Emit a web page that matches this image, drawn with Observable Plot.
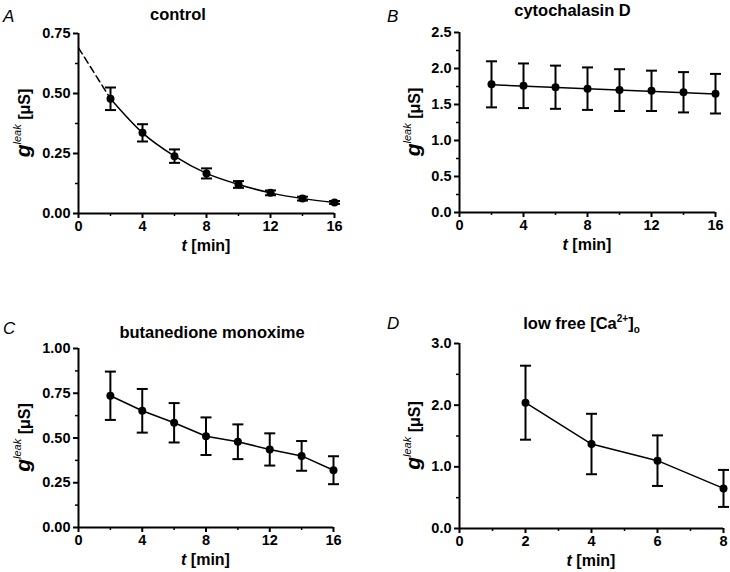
<!DOCTYPE html>
<html><head><meta charset="utf-8">
<script src="https://cdn.jsdelivr.net/npm/d3@7"></script>
<script src="https://cdn.jsdelivr.net/npm/@observablehq/plot@0.6"></script>
<style>
body{margin:0;background:#fff;}
#fig{position:relative;width:730px;height:572px;background:#fff;overflow:hidden;}
#fig svg{position:absolute;}
</style></head><body><div id="fig"></div>
<script>
// ---- data ----
const tA = [2, 4, 6, 8, 10, 12, 14, 16];
const gA = [0.478, 0.336, 0.239, 0.167, 0.121, 0.086, 0.062, 0.046];
const eA = [0.047, 0.036, 0.028, 0.021, 0.014, 0.010, 0.008, 0.006];
const tDashA = [0, 2];
const gDashA = [0.69, 0.478];

const tB = [2, 4, 6, 8, 10, 12, 14, 16];
const gB = [1.78, 1.76, 1.74, 1.72, 1.70, 1.69, 1.67, 1.65];
const eB = [0.32, 0.31, 0.30, 0.295, 0.29, 0.28, 0.28, 0.275];
const tFitB = [2, 16];
const gFitB = [1.775, 1.645];

const tC = [2, 4, 6, 8, 10, 12, 14, 16];
const gC = [0.736, 0.652, 0.585, 0.510, 0.479, 0.436, 0.400, 0.320];
const eC = [0.135, 0.122, 0.110, 0.105, 0.097, 0.090, 0.083, 0.078];

const tD = [2, 4, 6, 8];
const gD = [2.04, 1.37, 1.10, 0.65];
const eD = [0.60, 0.49, 0.41, 0.30];

// tick values
const xMajor16 = [0, 4, 8, 12, 16];
const xMinor16 = [2, 6, 10, 14];
const xMajor8 = [0, 2, 4, 6, 8];
const xMinor8 = [1, 3, 5, 7];
const yMajorA = [0, 0.25, 0.5, 0.75];
const yMinorA = [0.125, 0.375, 0.625];
const yMajorB = [0, 0.5, 1.0, 1.5, 2.0, 2.5];
const yMinorB = [0.25, 0.75, 1.25, 1.75, 2.25];
const yMajorC = [0, 0.25, 0.5, 0.75, 1.0];
const yMinorC = [0.125, 0.375, 0.625, 0.875];
const yMajorD = [0, 1.0, 2.0, 3.0];
const yMinorD = [0.5, 1.5, 2.5];

const letters = ["A", "B", "C", "D"];
const titles = ["control", "cytochalasin D", "butanedione monoxime", null];

const FONT = "'Liberation Sans', Arial, Helvetica, sans-serif";
const cap = {draw(ctx) { ctx.moveTo(-5.5, 0); ctx.lineTo(5.5, 0); }};

function zip(t, g, e) { return t.map((v, i) => ({t: v, g: g[i], e: e ? e[i] : 0})); }

function panel(c) {
  const rows = zip(c.t, c.g, c.e);
  const svg = Plot.plot({
    width: 365, height: 286,
    marginLeft: c.m[0], marginRight: c.m[1], marginTop: c.m[2], marginBottom: c.m[3],
    style: {fontFamily: FONT, fontSize: "14.5px", fontWeight: "bold", color: "black", background: "white", overflow: "visible"},
    x: {domain: c.xDomain},
    y: {domain: c.yDomain},
    marks: [
      Plot.axisX({ticks: c.xMajor, tickSize: 5, tickPadding: 2, strokeWidth: 2, tickFormat: d => String(d), label: null}),
      Plot.axisX({ticks: c.xMinor, tickSize: 3, strokeWidth: 1.5, fill: "none", label: null}),
      Plot.axisY({ticks: c.yMajor, tickSize: 5, tickPadding: 3, strokeWidth: 2, tickFormat: c.yFmt, label: null}),
      Plot.axisY({ticks: c.yMinor, tickSize: 3, strokeWidth: 1.5, fill: "none", label: null}),
      Plot.ruleX([c.xDomain[0]], {strokeWidth: 2}),
      Plot.ruleY([c.yDomain[0]], {strokeWidth: 2}),
      ...c.lines,
      Plot.ruleX(rows, {x: "t", y1: d => d.g - d.e, y2: d => d.g + d.e, strokeWidth: 2}),
      Plot.dot(rows, {x: "t", y: d => d.g + d.e, symbol: cap, stroke: "black", strokeWidth: 2}),
      Plot.dot(rows, {x: "t", y: d => d.g - d.e, symbol: cap, stroke: "black", strokeWidth: 2}),
      Plot.dot(rows, {x: "t", y: "g", r: 4, fill: "black"})
    ]
  });
  svg.style.left = c.pos[0] + "px";
  svg.style.top = c.pos[1] + "px";
  const s = d3.select(svg);
  const fw = 365 - c.m[0] - c.m[1], fh = 286 - c.m[2] - c.m[3];
  // panel letter
  s.append("text").attr("x", c.letterPos[0]).attr("y", c.letterPos[1])
    .attr("text-anchor", "start")
    .attr("font-style", "italic").attr("font-weight", "normal").attr("font-size", 17)
    .attr("fill", "black").text(c.letter);
  // title
  const tt = s.append("text").attr("x", c.titlePos[0]).attr("y", c.titlePos[1])
    .attr("text-anchor", "middle").attr("font-weight", "bold").attr("font-size", 16.5).attr("fill", "black");
  if (c.title) tt.text(c.title);
  else {
    tt.append("tspan").text("low free [Ca");
    tt.append("tspan").attr("font-size", 10).attr("dy", -7).text("2+");
    tt.append("tspan").attr("dy", 7).text("]");
    tt.append("tspan").attr("font-size", 10).attr("dy", 4).text("o");
  }
  // y label
  const yl = s.append("text")
    .attr("transform", `translate(${c.ylabX},${c.m[2] + fh / 2}) rotate(-90)`)
    .attr("text-anchor", "middle").attr("fill", "black");
  yl.append("tspan").attr("font-weight", "bold").attr("font-style", "italic").attr("font-size", 21).text("g");
  yl.append("tspan").attr("font-style", "italic").attr("font-weight", "normal").attr("font-size", 11).attr("dy", -9).text("leak");
  yl.append("tspan").attr("font-weight", "bold").attr("font-size", 16).attr("dy", 9).text(" [μS]");
  // x label
  const xl = s.append("text")
    .attr("x", c.m[0] + fw / 2).attr("y", 286 - c.m[3] + 38)
    .attr("text-anchor", "middle").attr("font-weight", "bold").attr("font-size", 16).attr("fill", "black");
  xl.append("tspan").attr("font-style", "italic").text("t");
  xl.append("tspan").text(" [min]");
  document.getElementById("fig").appendChild(svg);
}

const f2 = d => d.toFixed(2), f1 = d => d.toFixed(1);

panel({
  pos: [0, 0], m: [78, 31, 33, 73], letter: letters[0], title: titles[0],
  letterPos: [3, 21.5], titlePos: [178, 20], ylabX: 30,
  t: tA, g: gA, e: eA, xDomain: [0, 16], yDomain: [0, 0.75],
  xMajor: xMajor16, xMinor: xMinor16, yMajor: yMajorA, yMinor: yMinorA, yFmt: f2,
  lines: [
    Plot.line(zip(tA, gA), {x: "t", y: "g", curve: "monotone-x", strokeWidth: 1.5}),
    Plot.line(zip(tDashA, gDashA), {x: "t", y: "g", strokeWidth: 1.5, strokeDasharray: "7,4"})
  ]
});
panel({
  pos: [365, 0], m: [94, 15, 32, 74], letter: letters[1], title: titles[1],
  letterPos: [22, 21.5], titlePos: [207.5, 15.5], ylabX: 55,
  t: tB, g: gB, e: eB, xDomain: [0, 16], yDomain: [0, 2.5],
  xMajor: xMajor16, xMinor: xMinor16, yMajor: yMajorB, yMinor: yMinorB, yFmt: f1,
  lines: [Plot.line(zip(tFitB, gFitB), {x: "t", y: "g", strokeWidth: 1.5})]
});
panel({
  pos: [0, 286], m: [78, 32, 62, 45], letter: letters[2], title: titles[2],
  letterPos: [3, 48], titlePos: [212, 51.5], ylabX: 30,
  t: tC, g: gC, e: eC, xDomain: [0, 16], yDomain: [0, 1.0],
  xMajor: xMajor16, xMinor: xMinor16, yMajor: yMajorC, yMinor: yMinorC, yFmt: f2,
  lines: [Plot.line(zip(tC, gC), {x: "t", y: "g", strokeWidth: 1.5})]
});
panel({
  pos: [365, 286], m: [94, 7, 57, 44], letter: letters[3], title: titles[3],
  letterPos: [22, 43], titlePos: [216.5, 43], ylabX: 55,
  t: tD, g: gD, e: eD, xDomain: [0, 8], yDomain: [0, 3.0],
  xMajor: xMajor8, xMinor: xMinor8, yMajor: yMajorD, yMinor: yMinorD, yFmt: f1,
  lines: [Plot.line(zip(tD, gD), {x: "t", y: "g", strokeWidth: 1.5})]
});
</script></body></html>
